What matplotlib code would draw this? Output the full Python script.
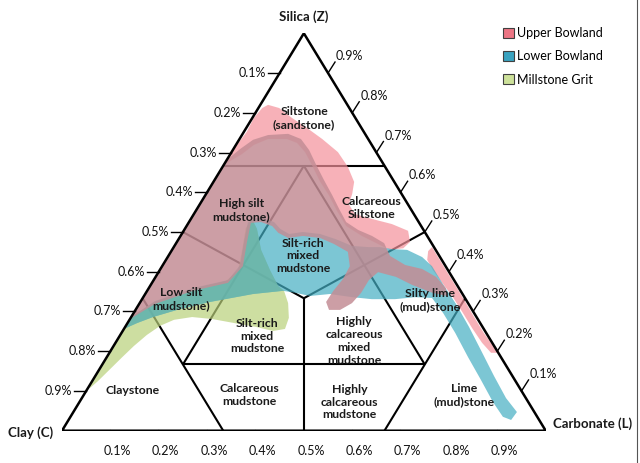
#!/usr/bin/env python3
"""Ternary mudstone classification with Bowland / Millstone Grit fields."""

import matplotlib
matplotlib.use("Agg")
import matplotlib.pyplot as plt
import numpy as np
from matplotlib.lines import Line2D
from matplotlib.patches import Patch, Polygon

plt.rcParams["font.family"] = ["Lato", "DejaVu Sans"]

# field outlines as (silica %, carbonate %); clay = 100 - silica - carbonate
UPPER_CAP = [(68.1, 0), (70.6, 0), (75.2, 0.6), (78.7, 0.3), (81.2, 0.8), (82.0, 1.6),
             (81.2, 4.3), (78.7, 8.2), (76.4, 12.2), (73.4, 17.1), (70.1, 22.0),
             (66.4, 25.9), (62.6, 29.1), (59.6, 30.2), (57.0, 30.8), (54.5, 33.3),
             (53.3, 37.4), (52.0, 42.2), (50.3, 46.4), (47.5, 48.2), (45.9, 47.6),
             (45.5, 45.0), (47.0, 41.8), (49.0, 37.5), (51.5, 33.0), (55.3, 29.2),
             (59.1, 25.7), (62.8, 21.9), (66.9, 18.2), (70.1, 15.2), (72.4, 12.4),
             (73.4, 9.8), (73.4, 5.9), (71.9, 3.7), (69.6, 2.4), (66.9, 0)]
UPPER_TAIL = [(45.2, 53.1), (46.2, 53.4), (43.7, 55.9), (40.4, 59.2), (36.7, 62.9),
              (32.9, 66.7), (28.6, 70.9), (24.6, 74.9), (21.3, 78.5), (19.6, 80.2),
              (19.6, 78.9), (22.1, 75.8), (25.8, 71.9), (29.9, 67.8), (33.9, 63.7),
              (37.2, 60.0), (40.4, 56.5), (43.0, 54.0)]
UPPER_CORE = [(68.1, 0), (70.9, 1.4), (73.2, 2.9), (74.4, 5.4), (74.7, 9.4), (73.4, 12.7),
              (70.6, 15.8), (66.9, 19.1), (63.1, 22.6), (59.3, 26.2), (55.8, 29.4),
              (52.5, 32.5), (50.5, 36.0), (49.0, 39.6), (47.2, 43.0), (44.0, 45.8),
              (41.7, 50.1), (40.7, 54.1), (38.7, 58.0), (35.9, 61.4), (33.9, 62.6),
              (34.7, 59.2), (36.7, 54.0), (38.7, 49.7), (39.9, 45.4), (37.9, 44.5),
              (34.7, 44.5), (32.1, 43.9), (30.4, 42.3), (30.4, 40.0), (32.4, 38.4),
              (35.2, 38.5), (38.2, 39.0), (41.4, 38.8), (45.0, 36.6), (47.0, 32.7),
              (48.5, 29.1), (49.0, 25.3), (48.5, 22.5), (49.8, 19.8), (51.5, 17.7),
              (52.5, 14.9), (52.3, 12.9), (47.5, 14.5), (41.4, 16.7), (37.2, 15.7),
              (35.2, 9.5), (31.9, 3.3), (28.1, 0)]
LOWER = [(28.6, 0), (32.6, 2.9), (35.9, 9.1), (37.9, 15.4), (41.7, 16.0), (47.5, 13.9),
         (52.5, 12.2), (53.5, 13.4), (53.5, 14.8), (52.5, 17.6), (50.8, 19.7), (49.5, 22.2),
         (50.0, 24.8), (49.5, 28.6), (48.2, 32.5), (46.5, 36.7), (46.2, 40.2), (46.2, 42.6),
         (45.7, 45.4), (45.5, 48.6), (43.7, 52.6), (41.4, 55.8), (36.9, 60.3), (31.9, 65.5),
         (26.1, 71.1), (19.8, 76.9), (13.8, 82.4), (8.2, 87.7), (4.7, 91.7), (2.7, 91.5),
         (3.5, 89.4), (7.2, 85.5), (12.8, 80.2), (18.5, 74.7), (24.6, 69.0), (29.6, 64.0),
         (33.4, 59.8), (33.6, 56.2), (33.1, 52.3), (33.1, 47.5), (33.6, 43.2), (34.4, 38.2),
         (33.9, 34.3), (34.7, 30.9), (35.2, 28.1), (34.4, 22.3), (32.4, 14.4), (30.4, 8.6),
         (28.6, 4.5), (27.1, 2.0), (25.6, 0)]
MILLSTONE = [(10.7, 0.4), (12.5, 1.2), (15.5, 2.2), (18.5, 3.2), (21.3, 4.2), (24.1, 5.5),
             (26.4, 7.1), (27.9, 9.2), (28.6, 12.6), (28.1, 17.0), (27.1, 22.0), (26.1, 27.1),
             (25.1, 31.1), (25.6, 33.3), (28.4, 32.7), (32.1, 30.7), (35.2, 28.3), (36.4, 26.5),
             (40.4, 22.8), (45.5, 18.4), (50.8, 14.9), (53.3, 12.6), (51.0, 12.5), (45.5, 14.5),
             (40.4, 16.2), (37.7, 15.1), (35.7, 9.2), (32.4, 3.0), (28.9, 0), (11.5, 0)]

TICK_LABELS = ["0.1%", "0.2%", "0.3%", "0.4%", "0.5%", "0.6%", "0.7%", "0.8%", "0.9%"]
TICK_VALUES = [0.1, 0.2, 0.3, 0.4, 0.5, 0.6, 0.7, 0.8, 0.9]

# classification boundaries: pairs of (silica, carbonate) fractions
BOUNDARIES = [
    ((2 / 3, 0), (2 / 3, 1 / 3)),
    ((1 / 6, 1 / 6), (1 / 6, 2 / 3)),
    ((2 / 3, 1 / 6), (1 / 6, 1 / 6)),
    ((2 / 3, 1 / 6), (1 / 6, 2 / 3)),
    ((0, 1 / 3), (1 / 3, 0)),
    ((0, 2 / 3), (1 / 3, 2 / 3)),
    ((1 / 3, 1 / 3), (0.5, 0)),
    ((1 / 3, 1 / 3), (0.5, 0.5)),
    ((1 / 3, 1 / 3), (0, 0.5)),
]

# class names and where they sit, (silica %, carbonate %)
CLASSES = [
    ("Siltstone\n(sandstone)", 78.7, 10.7),
    ("High silt\nmudstone)", 55.5, 9.3),
    ("Calcareous\nSiltstone", 56.0, 35.9),
    ("Silt-rich\nmixed\nmudstone", 44.0, 27.8),
    ("Low silt\nmudstone)", 33.1, 8.1),
    ("Silt-rich\nmixed\nmudstone", 23.8, 28.4),
    ("Highly\ncalcareous\nmixed\nmudstone", 22.6, 49.1),
    ("Claystone", 10.2, 9.4),
    ("Calcareous\nmudstone", 9.0, 34.2),
    ("Highly\ncalcareous\nmudstone", 7.2, 55.9),
    ("Silty lime\n(mud)stone", 32.9, 59.6),
    ("Lime\n(mud)stone", 9.0, 78.6),
]

SERIES = ["Upper Bowland", "Lower Bowland", "Millstone Grit"]
SWATCH = ["#ec7584", "#3aa3c0", "#cde19a"]

# plot width/height in pixels, used only to size the ticks
PX_W, PX_H = 483.7, 397.4


def tern(silica, carbonate):
    z = np.asarray(silica, dtype=float)
    l = np.asarray(carbonate, dtype=float)
    return l + z / 2, z


def outline(pts):
    z = np.array([p[0] for p in pts]) / 100
    l = np.array([p[1] for p in pts]) / 100
    x, y = tern(z, l)
    return np.column_stack([x, y])


def main():
    fig = plt.figure(figsize=(6.4, 4.63), dpi=100)
    ax = fig.add_axes([62 / 640, 32.3 / 463, PX_W / 640, PX_H / 463])
    ax.set_xlim(0, 1)
    ax.set_ylim(0, 1)
    ax.axis("off")

    for a, b in BOUNDARIES:
        xa, ya = tern(*a)
        xb, yb = tern(*b)
        ax.plot([xa, xb], [ya, yb], color="black", lw=1.5, zorder=1, solid_capstyle="butt")

    green = Polygon(outline(MILLSTONE), closed=True, facecolor="#b9d07a", edgecolor="none",
                    alpha=0.7, zorder=2)
    ax.add_patch(green)
    for pts in (UPPER_CAP, UPPER_TAIL):
        ax.add_patch(Polygon(outline(pts), closed=True, facecolor="#f5919b", edgecolor="none",
                             alpha=0.7, zorder=2.1))
    ax.add_patch(Polygon(outline(LOWER), closed=True, facecolor="#44aec2", edgecolor="none",
                         alpha=0.7, zorder=2.2))
    overlap = Polygon(outline(LOWER), closed=True, facecolor="#6eb5a7", edgecolor="none",
                      alpha=0.7, zorder=2.3)
    ax.add_patch(overlap)
    overlap.set_clip_path(green)
    ax.add_patch(Polygon(outline(UPPER_CORE), closed=True, facecolor="#c38d95", edgecolor="none",
                         alpha=0.85, zorder=2.4))

    # outer triangle
    ax.plot([0, 1, 0.5, 0], [0, 0, 1, 0], color="black", lw=1.8, zorder=3,
            solid_joinstyle="miter")

    tl = 12 / PX_W
    rx, ry = 7 / PX_W, 11 / PX_H
    for v, lab in zip(TICK_VALUES, TICK_LABELS):
        # left edge: clay side, label k at silica 1 - k
        z = 1 - v
        x0, y0 = tern(z, 0)
        ax.plot([x0, x0 - tl], [y0, y0], color="black", lw=1, zorder=3)
        ax.text(x0 - tl - 2 / PX_W, y0, lab, ha="right", va="center", fontsize=9,
                color="#111111")
        # right edge: silica
        x0, y0 = tern(v, 1 - v)
        ax.plot([x0, x0 + rx], [y0, y0 + ry], color="black", lw=1, zorder=3)
        ax.text(x0 + rx + 1 / PX_W, y0 + ry, lab, ha="left", va="bottom", fontsize=9,
                color="#111111")
        # bottom edge: carbonate
        x0, y0 = tern(0, v)
        ax.plot([x0, x0 + rx], [y0, y0 - ry], color="black", lw=1, zorder=3)
        ax.text(x0 + rx, y0 - ry - 3 / PX_H, lab, ha="center", va="top", fontsize=9,
                color="#111111")

    for name, z, l in CLASSES:
        x, y = tern(z / 100, l / 100)
        ax.text(x, y, name, ha="center", va="center", fontsize=8.8, fontweight="bold",
                color="#1a1a1a", linespacing=1.2, zorder=5)

    ax.text(0.5, 1.041, "Silica (Z)", ha="center", va="center", fontsize=9.5,
            fontweight="bold", color="#1a1a1a")
    ax.text(-0.066, -0.006, "Clay (C)", ha="center", va="center", fontsize=9.5,
            fontweight="bold", color="#1a1a1a")
    ax.text(1.096, 0.017, "Carbonate (L)", ha="center", va="center", fontsize=9.5,
            fontweight="bold", color="#1a1a1a")

    handles = [Patch(facecolor=c, edgecolor="#404040", lw=0.8) for c in SWATCH]
    fig.legend(handles, SERIES, loc="upper left", bbox_to_anchor=(503 / 640, 1 - 27 / 463),
               frameon=False, fontsize=9, handlelength=0.85, handleheight=0.85,
               handletextpad=0.3, labelspacing=0.9, borderpad=0, borderaxespad=0)

    fig.add_artist(Line2D([637 / 640, 637 / 640], [0, 1], color="#555555", lw=0.8))

    fig.savefig("out.png", dpi=100)


if __name__ == "__main__":
    main()
